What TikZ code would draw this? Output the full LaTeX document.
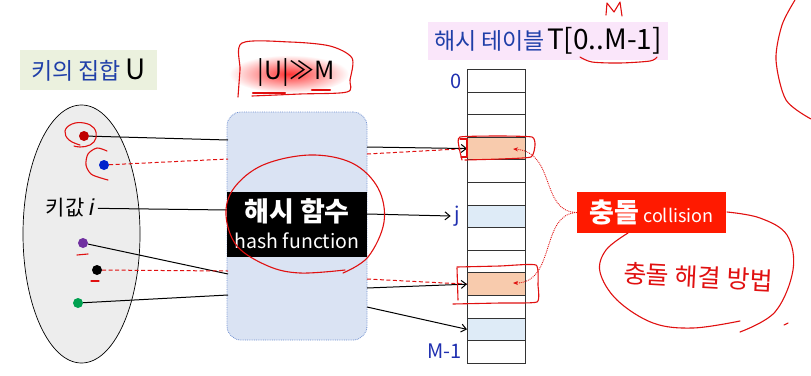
\documentclass[tikz,border=0pt]{standalone}
\usepackage{fontspec}
\setmainfont{Noto Sans CJK KR}
\newfontfamily\latinsans{Liberation Sans}
\usetikzlibrary{arrows.meta,shapes.geometric}

\definecolor{keyblue}{HTML}{1F3FA8}
\definecolor{labelbg}{HTML}{EBF1DE}
\definecolor{titlebg}{HTML}{FAE6FA}
\definecolor{setfill}{HTML}{EDEDED}
\definecolor{hashfill}{HTML}{DAE3F3}
\definecolor{hashedge}{HTML}{6F8FD0}
\definecolor{slotorange}{HTML}{F8CBAD}
\definecolor{slotblue}{HTML}{DEEBF7}
\definecolor{collred}{HTML}{FF1A00}
\definecolor{penred}{HTML}{E01010}
\definecolor{dotred}{HTML}{C00000}
\definecolor{dotblue}{HTML}{0022CC}
\definecolor{dotpurple}{HTML}{7030A0}
\definecolor{dotgreen}{HTML}{00A050}
\definecolor{idxblue}{HTML}{2030B0}

\tikzset{
  keydot/.style={circle, inner sep=0pt, minimum size=10pt, fill=#1},
  link/.style={line width=1pt, black},
  clash/.style={line width=1pt, penred, dash pattern=on 4pt off 2.5pt},
  hit/.style={-{Straight Barb[length=5pt,width=8pt]}},
  slot/.style={draw=black!80, line width=0.9pt, minimum width=58pt,
    minimum height=22.6pt, inner sep=0pt, anchor=north west},
  pen/.style={penred, line width=1.1pt, line cap=round, line join=round},
  idx/.style={text=idxblue, font=\fontsize{20}{22}\selectfont},
  pointer/.style={penred, densely dotted, line width=0.9pt,
    -{Stealth[length=5pt,width=4pt]}}
}

\begin{document}
\begin{tikzpicture}[x=1pt, y=-1pt]
\useasboundingbox (0,0) rectangle (811,375);

% ---- key set U ----
\node[fill=labelbg, minimum width=137pt, minimum height=40pt, inner sep=0pt]
      (setlabel) at (88.5,70)
      {\textcolor{keyblue}{\fontsize{23}{25}\selectfont 키의 집합}\ \
       {\fontsize{28}{30}\selectfont U}};
\node[ellipse, draw, line width=0.7pt, fill=setfill, minimum width=117pt,
      minimum height=258pt] (keyset) at (81.5,234) {};

\node[keydot=dotred] (kred) at (84,136) {};
\node[keydot=dotblue] (kblue) at (104,165) {};
\node[font=\fontsize{21}{23}\selectfont] (keyi) at (70,208)
      {키값 {\latinsans\itshape\fontsize{23}{25}\selectfont i}};
\node[keydot=dotpurple] (kpurple) at (83,243) {};
\node[keydot=black] (kblack) at (97,270) {};
\node[keydot=dotgreen] (kgreen) at (78,303) {};

% ---- hash function ----
\shade[inner color=red!80, outer color=white] (289,74) ellipse (60 and 19);
\node[font=\fontsize{25}{27}\selectfont] (ratio) at (296,73) {|U|≫M};

\node[draw=hashedge, densely dotted, line width=0.8pt, fill=hashfill,
      rounded corners=14pt, minimum width=140pt, minimum height=228pt]
      (hashbox) at (297,226) {};
\node[fill=black, minimum width=140pt, minimum height=65pt, inner sep=0pt]
      (hashband) at (297,224.5) {};
\node[text=white, inner sep=0pt, font=\fontsize{27}{29}\selectfont\bfseries]
      (hashko) at (297,211) {해시 함수};
\node[text=white, inner sep=0pt, font=\fontsize{19.5}{21}\selectfont]
      (hashen) at (297,241) {hash function};

\coordinate (inA) at (228,140);
\coordinate (inB) at (228,159);
\coordinate (inC) at (228,210);
\coordinate (inD) at (228,274);
\coordinate (inE) at (228,271);
\coordinate (inF) at (228,295);
\coordinate (outA) at (367,147);
\coordinate (outB) at (367,154);
\coordinate (outC) at (367,214);
\coordinate (outD) at (367,279);
\coordinate (outE) at (367,288);
\coordinate (outF) at (367,307);

% ---- hash table ----
\node[fill=titlebg, minimum width=240pt, minimum height=38pt, inner sep=0pt]
      (title) at (548,41)
      {\textcolor{keyblue}{\fontsize{23}{25}\selectfont 해시 테이블}\
       {\fontsize{28}{30}\selectfont T[0..M-1]}};

\foreach \k/\c in {0/white,1/white,2/white,3/slotorange,4/white,5/white,
                   6/slotblue,7/white,8/white,9/slotorange,10/white,
                   11/slotblue,12/white}
  \node[slot, fill=\c] (r\k) at (467,{69+22.6*\k}) {};

\node[idx, anchor=east] (lab0) at (465,81) {0};
\node[idx] (labj) at (457,216) {j};
\node[idx, anchor=east] (labM) at (465,351) {M-1};

% ---- mapping lines ----
\draw[link] (kred) -- (inA);
\draw[clash] (kblue) -- (inB);
\draw[link] (keyi) -- (inC);
\draw[link] (kpurple) -- (inD);
\draw[clash] (kblack) -- (inE);
\draw[link] (kgreen) -- (inF);

\draw[clash] (outB) -- (r3.west);
\draw[link, hit] (outA) -- (r3.west);
\draw[link, hit] (outC) -- (labj.west);
\draw[clash] (outD) -- (r9.west);
\draw[link, hit] (outE) -- (r9.west);
\draw[link, hit] (outF) -- (r11.west);

% ---- collision ----
\node[fill=collred, text=white, minimum width=149pt, minimum height=41pt,
      inner sep=0pt] (coll) at (651.5,212.5)
      {{\fontsize{27}{29}\selectfont\bfseries 충돌}\,
       {\fontsize{18}{20}\selectfont collision}};
\draw[pointer] (coll.west) .. controls (540,212) and (556,152) .. (513,149);
\draw[pointer] (coll.west) .. controls (540,214) and (556,283) .. (513,283);

% ---- pen notes ----
\draw[pen] plot[smooth, tension=0.7] coordinates
  {(80,145) (69,140) (65,131) (72,124) (84,123) (94,128) (96,138) (90,145) (80,147) (74,146)};
\draw[pen] plot[smooth] coordinates
  {(107,151) (97,148) (88,154) (86,165) (91,174) (101,178) (108,180)};
\draw[pen] (77,255) -- (88,254);
\draw[pen] (91,281) -- (99,281);

\draw[pen] plot[smooth, tension=0.5] coordinates
  {(238,97) (240,70) (242,43) (290,42) (330,46) (352,58) (350,80) (347,92) (300,94) (252,96)};
\draw[pen, line width=2.2pt] (253,93) -- (285,93);
\draw[pen, line width=2.2pt] (312,90) -- (330,90);

\draw[pen] plot[smooth, tension=0.6] coordinates
  {(343,273) (368,257) (384,222) (378,188) (352,163) (310,155) (263,165)
   (234,188) (226,215) (237,246) (268,266) (300,273) (345,270)};

\draw[pen] plot[smooth, tension=0.3] coordinates
  {(462,160) (459,147) (460,137) (500,136) (532,137) (535,145) (531,157) (500,159) (465,160)};
\draw[pen] (460,139) -- (467,139) -- (467,157) -- (461,157);
\draw[pen] plot[smooth, tension=0.3] coordinates
  {(457,267) (500,266) (536,265) (538,285) (537,302) (500,303) (453,304)};
\draw[pen] (457,268) -- (458,300);

\draw[pen] plot[smooth] coordinates {(580,57) (592,62) (620,63) (650,61) (657,57)};
\draw[pen] (606,15) -- (607,3) -- (614,12) -- (620,2) -- (622,16);
\draw[pen] plot[smooth] coordinates {(795,0) (782,25) (776,60) (786,100) (811,119)};

\draw[pen] plot[smooth, tension=0.6] coordinates
  {(628,233) (606,250) (600,272) (617,300) (653,323) (693,328) (740,321)};
\draw[pen] plot[smooth, tension=0.6] coordinates
  {(740,332) (775,312) (793,270) (787,235) (760,218) (727,212)};
\draw[pen] (784,325) -- (788,323);
\node[text=penred, font=\fontsize{25}{27}\selectfont, rotate=-3] (memo)
  at (698,277) {충돌 해결 방법};
\end{tikzpicture}
\end{document}
